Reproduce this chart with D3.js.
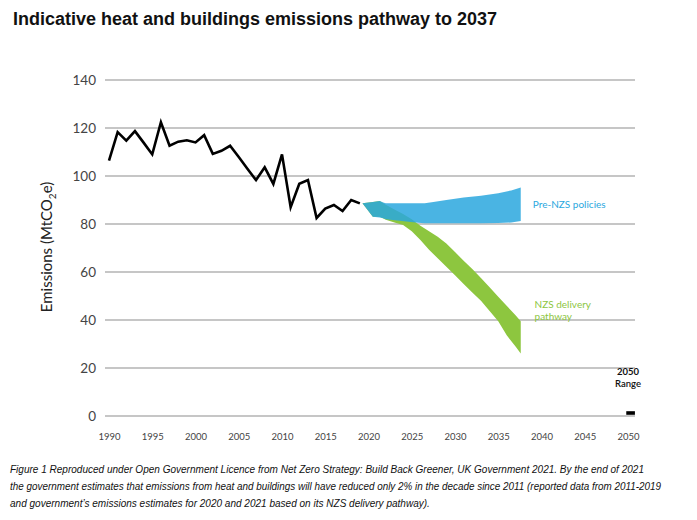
<!DOCTYPE html>
<html lang="en">
  <head>
    <meta charset="UTF-8" />
    <title>Heat and buildings emissions pathway</title>
    <style>
      body { margin: 0; background: #fff; }
      svg text { font-family: Lato, "Open Sans", sans-serif; }
      .grid line { stroke: #b3b3b3; stroke-width: 1.5; }
    </style>
  </head>
  <body>
    <svg id="chart" width="697" height="520"></svg>
    <script src="https://cdn.jsdelivr.net/npm/d3@7"></script>
    <script>
      // historic emissions, MtCO2e
      const years = d3.range(1990, 2020);
      const emissions = [106.4, 118.3, 114.7, 118.7, 113.9, 109, 122.4, 112.6, 114.3, 114.9,
        114, 117, 109.2, 110.5, 112.6, 107.9, 103, 98.3, 103.6, 96.7,
        109, 87, 96.8, 98.3, 82.5, 86.4, 87.9, 85.4, 90, 88.6];

      // Pre-NZS policies band
      const preYears = [2019.3, 2020.5, 2021.3, 2021.7, 2022, 2025.7, 2026.5, 2027.5, 2029, 2031, 2033, 2035, 2036.5, 2037.6];
      const preHigh = [88.6, 89.2, 89.6, 89, 88.6, 88.6, 88.6, 89.2, 90, 91, 91.8, 92.8, 94, 95.2];
      const preLow = [88.6, 83, 82.7, 82.4, 82, 80.5, 80.3, 80.3, 80.3, 80.3, 80.3, 80.4, 80.6, 81.2];

      // NZS delivery pathway band
      const nzsYears = [2019.3, 2020.5, 2021.3, 2022, 2023, 2024, 2025, 2026, 2027, 2028, 2029,
        2030, 2031, 2032, 2033, 2034, 2035, 2036, 2037, 2037.6];
      const nzsHigh = [88.6, 89.2, 89.6, 88, 86, 84.2, 82, 79.3, 77, 74.7, 71.9,
        68.3, 64.7, 61.2, 57.5, 53.6, 49.7, 45.8, 42, 39.5];
      const nzsLow = [88.6, 83, 83, 81.8, 80.6, 79.6, 77, 73.3, 69.3, 65.7, 62.2,
        58.6, 55, 51.5, 48, 43.8, 39.5, 33.5, 29, 26];

      // 2050 range
      const range2050 = [0.5, 2];

      const yTicks = d3.range(0, 141, 20);
      const xTicks = d3.range(1990, 2051, 5);

      const svg = d3.select("#chart");
      const x = d3.scaleLinear().domain([1990, 2050]).range([109, 628]);
      const y = d3.scaleLinear().domain([0, 140]).range([416, 80]);

      svg.append("text")
        .attr("x", 13).attr("y", 25)
        .style("font-family", "'Liberation Sans', Arial, sans-serif")
        .style("font-weight", "bold").style("font-size", "18px")
        .attr("fill", "#111")
        .attr("textLength", 484).attr("lengthAdjust", "spacingAndGlyphs")
        .text("Indicative heat and buildings emissions pathway to 2037");

      // gridlines
      svg.append("g").attr("class", "grid")
        .selectAll("line").data(yTicks).enter().append("line")
        .attr("x1", 105).attr("x2", 635)
        .attr("y1", (d) => y(d)).attr("y2", (d) => y(d));

      // y axis labels
      const yAxis = svg.append("g")
        .attr("transform", "translate(99,0)")
        .call(d3.axisLeft(y).tickValues(yTicks).tickSize(0).tickPadding(3));
      yAxis.select(".domain").remove();
      yAxis.selectAll("text")
        .style("font-family", "Lato, sans-serif").style("font-size", "13.5px").attr("fill", "#444");

      // x axis labels
      const xAxis = svg.append("g")
        .attr("transform", "translate(0,430)")
        .call(d3.axisBottom(x).tickValues(xTicks).tickFormat(d3.format("d")).tickSize(0).tickPadding(3));
      xAxis.select(".domain").remove();
      xAxis.selectAll("text")
        .style("font-family", "Lato, sans-serif").style("font-size", "9.5px").attr("fill", "#444");

      // y title
      const yt = svg.append("text")
        .attr("transform", "translate(52,247) rotate(-90)")
        .attr("text-anchor", "middle")
        .style("font-size", "15px").attr("fill", "#222");
      yt.append("tspan").text("Emissions (MtCO");
      yt.append("tspan").attr("dy", 4).style("font-size", "10px").text("2");
      yt.append("tspan").attr("dy", -4).text("e)");

      const area = d3.area()
        .x((d) => x(d[0]))
        .y0((d) => y(d[1]))
        .y1((d) => y(d[2]));

      svg.append("path")
        .datum(nzsYears.map((d, i) => [d, nzsLow[i], nzsHigh[i]]))
        .attr("d", area)
        .attr("fill", "#8dc63f");

      svg.append("path")
        .datum(preYears.map((d, i) => [d, preLow[i], preHigh[i]]))
        .attr("d", area)
        .attr("fill", "#2aa7de")
        .attr("opacity", 0.85);

      // historic line
      svg.append("path")
        .datum(years.map((d, i) => [d, emissions[i]]))
        .attr("d", d3.line().x((d) => x(d[0])).y((d) => y(d[1])))
        .attr("fill", "none")
        .attr("stroke", "#000")
        .attr("stroke-width", 2.6)
        .attr("stroke-linejoin", "miter");

      // band labels
      svg.append("text")
        .attr("x", x(2039)).attr("y", y(86.7))
        .style("font-size", "10px").attr("fill", "#2aa7de")
        .text("Pre-NZS policies");
      const nzsLabel = svg.append("text")
        .attr("x", x(2039.2)).attr("y", y(45))
        .style("font-size", "10px").attr("fill", "#8dc63f");
      nzsLabel.append("tspan").text("NZS delivery");
      nzsLabel.append("tspan").attr("x", x(2039.2)).attr("dy", 11.5).text("pathway");

      // 2050 range
      svg.append("rect")
        .attr("x", x(2049.8)).attr("width", x(2050.8) - x(2049.8))
        .attr("y", y(range2050[1])).attr("height", y(range2050[0]) - y(range2050[1]))
        .attr("fill", "#000");
      svg.append("text")
        .attr("x", x(2050)).attr("y", 375).attr("text-anchor", "middle")
        .style("font-size", "9.5px").style("font-weight", "bold").attr("fill", "#111")
        .text("2050");
      svg.append("text")
        .attr("x", x(2050)).attr("y", 387).attr("text-anchor", "middle")
        .style("font-size", "9.5px").style("font-weight", "600").attr("fill", "#111")
        .text("Range");

      // caption, squeezed to the narrow face of the original
      const captionLines = [
        "Figure 1 Reproduced under Open Government Licence from Net Zero Strategy: Build Back Greener, UK Government 2021. By the end of 2021",
        "the government estimates that emissions from heat and buildings will have reduced only 2% in the decade since 2011 (reported data from 2011-2019",
        "and government\u2019s emissions estimates for 2020 and 2021 based on its NZS delivery pathway)."
      ];
      const caption = svg.append("g").selectAll("text").data(captionLines).enter().append("text")
        .attr("x", 10)
        .attr("y", (d, i) => 473 + i * 17)
        .style("font-family", "'Liberation Sans', Arial, sans-serif")
        .style("font-style", "italic")
        .style("font-size", "11.5px").attr("fill", "#111")
        .text((d) => d);
      const squeeze = 634 / caption.nodes()[0].getComputedTextLength();
      caption.each(function (d, i) {
        const w = this.getComputedTextLength() * squeeze;
        d3.select(this)
          .attr("textLength", i === 1 ? Math.min(w, 651) : w)
          .attr("lengthAdjust", "spacingAndGlyphs");
      });
    </script>
  </body>
</html>
